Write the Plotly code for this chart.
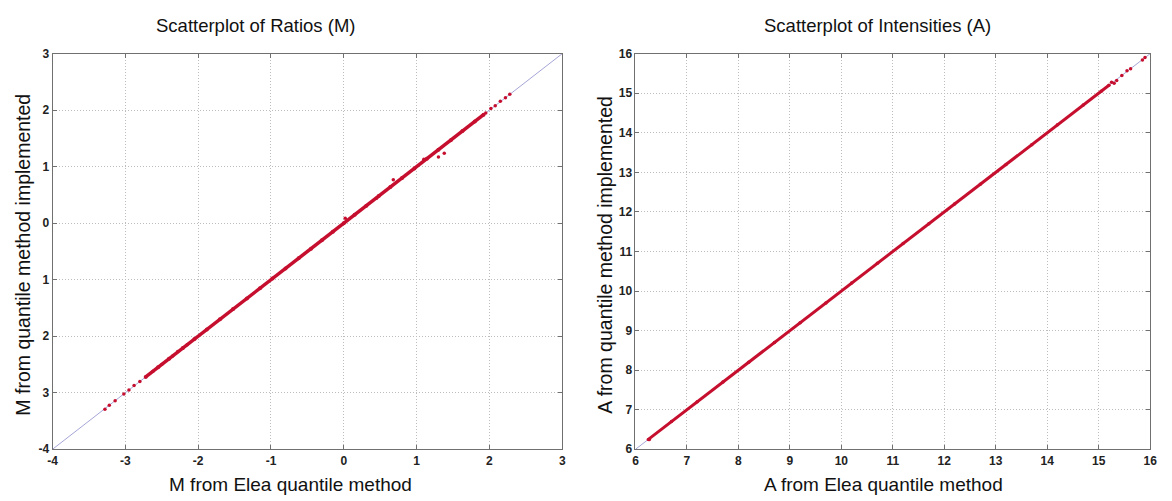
import plotly.graph_objects as go

# ---------------- data ----------------
# identity reference lines
m_ref = [-4, 3]
a_ref = [6, 16]

# Ratios (M): dense band of points lying on the diagonal
m_elea_dense = [-2.72, -2.55, -2.40, -2.21, -2.05, -1.88, -1.70, -1.52, -1.33, -1.15,
                -0.98, -0.80, -0.62, -0.45, -0.30, -0.15, 0.00, 0.15, 0.31, 0.48,
                0.64, 0.80, 0.97, 1.14, 1.30, 1.47, 1.63, 1.80, 1.92]
m_impl_dense = [-2.72, -2.55, -2.40, -2.21, -2.05, -1.88, -1.70, -1.52, -1.33, -1.15,
                -0.98, -0.80, -0.62, -0.45, -0.30, -0.15, 0.00, 0.15, 0.31, 0.48,
                0.64, 0.80, 0.97, 1.14, 1.30, 1.47, 1.63, 1.80, 1.92]
# Ratios (M): isolated points
m_elea_sparse = [-3.28, -3.22, -3.14, -3.02, -2.95, -2.88, -2.80, -2.62, -2.50, -2.35,
                 -2.28, -2.15, 1.95, 2.02, 2.08, 2.15, 2.22, 2.28,
                 0.68, 1.38, 1.30, 0.02, 1.10, 0.45]
m_impl_sparse = [-3.29, -3.22, -3.14, -3.02, -2.95, -2.87, -2.80, -2.62, -2.50, -2.35,
                 -2.27, -2.15, 1.95, 2.03, 2.08, 2.16, 2.22, 2.28,
                 0.77, 1.24, 1.17, 0.09, 1.13, 0.44]

# Intensities (A): dense band
a_elea_dense = [6.25, 6.70, 7.20, 7.70, 8.20, 8.70, 9.20, 9.70, 10.20, 10.70,
                11.20, 11.70, 12.20, 12.70, 13.20, 13.70, 14.20, 14.70, 15.05, 15.20]
a_impl_dense = [6.25, 6.70, 7.20, 7.70, 8.20, 8.70, 9.20, 9.70, 10.20, 10.70,
                11.20, 11.70, 12.20, 12.70, 13.20, 13.70, 14.20, 14.70, 15.05, 15.20]
# Intensities (A): isolated points
a_elea_sparse = [15.25, 15.30, 15.35, 15.45, 15.55, 15.62, 15.85, 15.90, 6.27]
a_impl_sparse = [15.28, 15.25, 15.32, 15.45, 15.57, 15.62, 15.84, 15.90, 6.25]

# tick labels
m_ticks = [-4, -3, -2, -1, 0, 1, 2, 3]
m_ytext = ["-4", "3", "2", "1", "0", "1", "2", "3"]
m_xtext = ["-4", "-3", "-2", "-1", "0", "1", "2", "3"]
a_ticks = [6, 7, 8, 9, 10, 11, 12, 13, 14, 15, 16]

titles = ["Scatterplot of Ratios (M)", "Scatterplot of Intensities (A)"]
xtitles = ["M from Elea quantile method", "A from Elea quantile method"]
ytitles = ["M from quantile method implemented", "A from quantile method implemented"]

# ---------------- figure ----------------
W, H = 1172, 501
RED = "rgb(198,14,46)"
REF = "rgb(165,165,215)"
FONT = "Liberation Sans, Arial, sans-serif"

fig = go.Figure()

fig.add_trace(go.Scatter(x=m_ref, y=m_ref, mode="lines", line=dict(color=REF, width=1),
                         xaxis="x", yaxis="y", hoverinfo="skip"))
fig.add_trace(go.Scatter(x=m_elea_dense, y=m_impl_dense, mode="lines+markers",
                         line=dict(color=RED, width=3.5), marker=dict(color=RED, size=4),
                         xaxis="x", yaxis="y"))
fig.add_trace(go.Scatter(x=m_elea_sparse, y=m_impl_sparse, mode="markers",
                         marker=dict(color=RED, size=3.5), xaxis="x", yaxis="y"))

fig.add_trace(go.Scatter(x=a_ref, y=a_ref, mode="lines", line=dict(color=REF, width=1),
                         xaxis="x2", yaxis="y2", hoverinfo="skip"))
fig.add_trace(go.Scatter(x=a_elea_dense, y=a_impl_dense, mode="lines+markers",
                         line=dict(color=RED, width=3), marker=dict(color=RED, size=3.5),
                         xaxis="x2", yaxis="y2"))
fig.add_trace(go.Scatter(x=a_elea_sparse, y=a_impl_sparse, mode="markers",
                         marker=dict(color=RED, size=3.5), xaxis="x2", yaxis="y2"))

def px_x(p):
    return p / W

def px_y(p):
    return 1 - p / H

L1, R1 = 48, 563
L2, R2 = 637, 1157
T, B = 48, 455

axis_common = dict(
    showline=True, linecolor="#707070", linewidth=1, mirror="ticks",
    ticks="inside", ticklen=4, tickcolor="#707070",
    showgrid=True, gridcolor="#bdbdbd", griddash="1px,2px", gridwidth=1,
    zeroline=False, tickfont=dict(family=FONT, size=12, color="#222", weight="bold"),
)

fig.update_layout(
    width=W, height=H, margin=dict(l=0, r=0, t=0, b=0),
    paper_bgcolor="white", plot_bgcolor="white", showlegend=False,
    font=dict(family=FONT, color="#111"),
    xaxis=dict(domain=[px_x(L1), px_x(R1)], range=[-4, 3], tickvals=m_ticks, ticktext=m_xtext,
               anchor="y", **axis_common),
    yaxis=dict(domain=[px_y(B), px_y(T)], range=[-4, 3], tickvals=m_ticks, ticktext=m_ytext,
               anchor="x", **axis_common),
    xaxis2=dict(domain=[px_x(L2), px_x(R2)], range=[6, 16], tickvals=a_ticks,
                anchor="y2", **axis_common),
    yaxis2=dict(domain=[px_y(B), px_y(T)], range=[6, 16], tickvals=a_ticks,
                anchor="x2", **axis_common),
)

ann = []
# titles
for txt, cx in zip(titles, [253, 882]):
    ann.append(dict(text=txt, x=px_x(cx), y=px_y(19), xref="paper", yref="paper",
                    showarrow=False, xanchor="center", yanchor="middle",
                    font=dict(family=FONT, size=18.5, color="#111")))
for txt, cx in zip(xtitles, [288, 888]):
    ann.append(dict(text=txt, x=px_x(cx), y=px_y(491), xref="paper", yref="paper",
                    showarrow=False, xanchor="center", yanchor="middle",
                    font=dict(family=FONT, size=19, color="#111")))
for txt, cx in zip(ytitles, [18, 606]):
    ann.append(dict(text=txt, x=px_x(cx), y=px_y(255), xref="paper", yref="paper",
                    showarrow=False, xanchor="center", yanchor="middle", textangle=-90,
                    font=dict(family=FONT, size=19.5, color="#111")))
fig.update_layout(annotations=ann)

fig.write_html("out.html")
